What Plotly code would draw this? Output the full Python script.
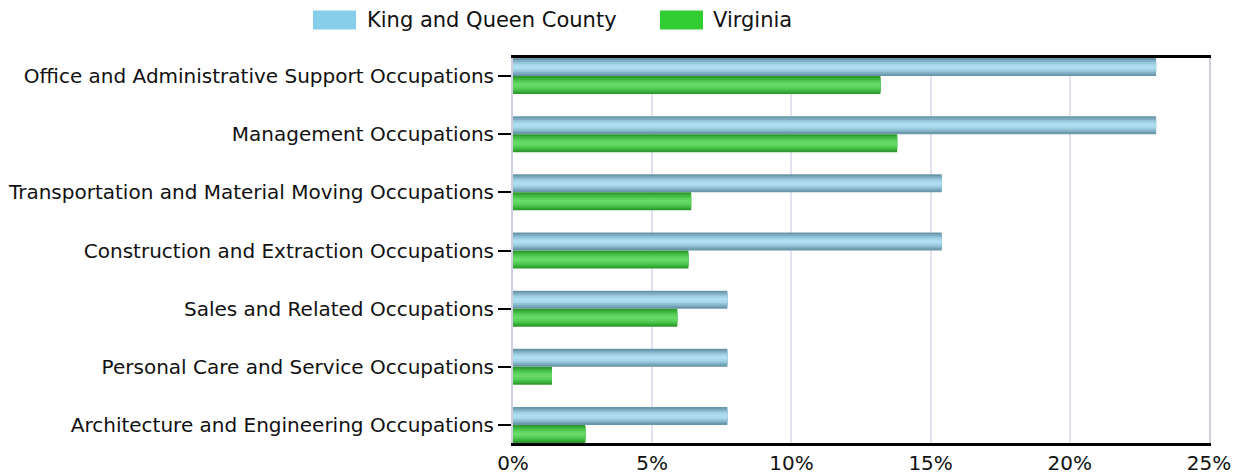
import plotly.graph_objects as go

categories = [
    "Office and Administrative Support Occupations",
    "Management Occupations",
    "Transportation and Material Moving Occupations",
    "Construction and Extraction Occupations",
    "Sales and Related Occupations",
    "Personal Care and Service Occupations",
    "Architecture and Engineering Occupations",
]
king_queen = [23.1, 23.1, 15.4, 15.4, 7.7, 7.7, 7.7]
virginia = [13.2, 13.8, 6.4, 6.3, 5.9, 1.4, 2.6]
x_ticks = [0, 5, 10, 15, 20, 25]
x_tick_labels = ["0%", "5%", "10%", "15%", "20%", "25%"]

# page has an 8px body margin; lay the figure out so the plot lands where intended
BODY = 8
W, H = 1230, 467
L, R, T, B = 505, 29, 50, 32
PW, PH = W - L - R, H - T - B


def px(page_x):
    return (page_x - BODY - L) / PW


def py(page_y):
    return (H - B - (page_y - BODY)) / PH


series = [
    ("King and Queen County", king_queen, "#87CEEB",
     ["#6a97aa", "#7eacc0", "#94c4d8", "#a6d6ea", "#b0def0"], -0.31),
    ("Virginia", virginia, "#32CD32",
     ["#2f9a2f", "#3cb33c", "#4cc64c", "#5cd35c", "#66d966"], 0.0),
]
bar_w = 0.31
ypos = list(range(len(categories)))

fig = go.Figure()
for name, vals, legend_color, shades, off in series:
    n = len(shades)
    for k, col in enumerate(shades):
        inset = bar_w * 0.42 * k / (n - 1)
        fig.add_trace(go.Bar(
            y=ypos, x=vals, orientation="h", name=name,
            width=bar_w - 2 * inset, offset=off + inset,
            marker=dict(color=col, line=dict(width=0)),
            showlegend=False, hoverinfo="x+name",
        ))

legend_items = [("King and Queen County", "#87CEEB", 313, 368),
                ("Virginia", "#32CD32", 660, 714)]
for label, col, sx, tx in legend_items:
    fig.add_shape(type="rect", xref="paper", yref="paper",
                  x0=px(sx), x1=px(sx + 43), y0=py(29.5), y1=py(10.5),
                  fillcolor=col, line=dict(width=0))
    fig.add_annotation(xref="paper", yref="paper", x=px(tx - 3), y=py(20),
                       text=label, showarrow=False, xanchor="left", yanchor="middle",
                       font=dict(family="DejaVu Sans", size=21, color="#111"))

fig.update_layout(
    width=W, height=H,
    margin=dict(l=L, r=R, t=T, b=B, autoexpand=False),
    barmode="overlay",
    plot_bgcolor="white", paper_bgcolor="white",
    font=dict(family="DejaVu Sans", size=20, color="#111"),
    showlegend=False,
    xaxis=dict(range=[0, 25], tickvals=x_ticks, ticktext=x_tick_labels,
               showgrid=True, gridcolor="#e1e1f0", gridwidth=1.5,
               showline=True, linecolor="black", linewidth=2.5, mirror=True,
               ticks="", zeroline=False, fixedrange=True, automargin=False),
    yaxis=dict(tickvals=ypos, ticktext=categories, range=[6.31, -0.31],
               showgrid=False, showline=True, linecolor="#cfcfe0", linewidth=2,
               mirror=True, ticks="outside", ticklen=13, tickcolor="black", tickwidth=2,
               zeroline=False, fixedrange=True, automargin=False),
)
fig.write_html("out.html")
